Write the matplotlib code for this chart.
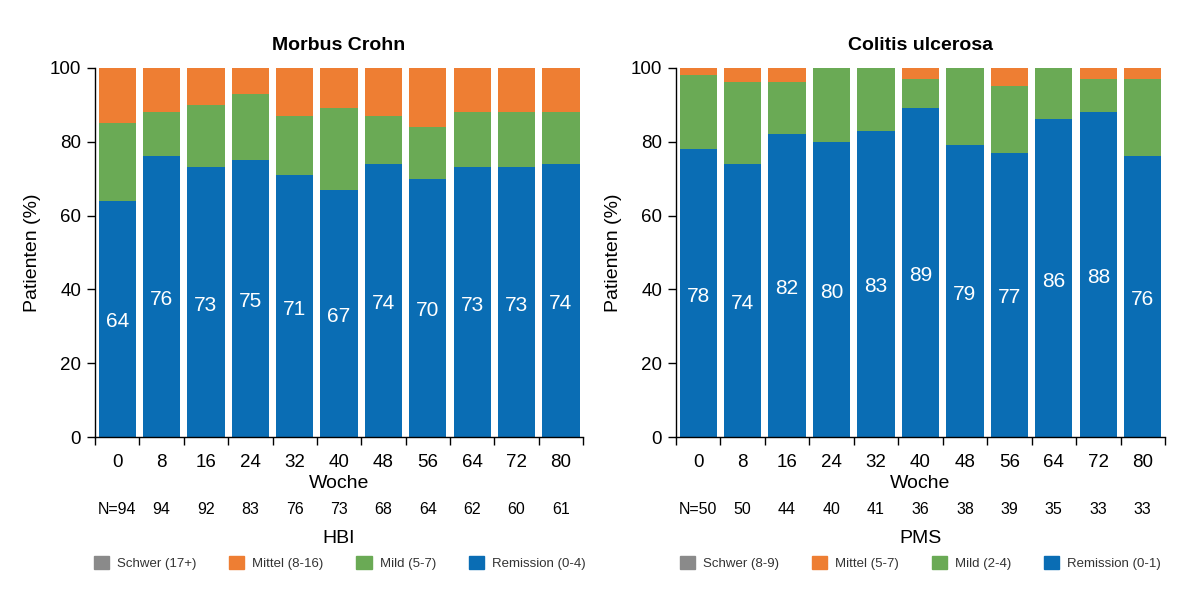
"""Stacked bars of disease activity over time: Morbus Crohn (HBI) and Colitis ulcerosa (PMS)."""

import numpy as np
import matplotlib.pyplot as plt
from matplotlib.patches import Patch
from matplotlib import transforms

plt.rcParams["font.family"] = ["Liberation Sans", "DejaVu Sans"]

WEEKS = ["0", "8", "16", "24", "32", "40", "48", "56", "64", "72", "80"]

# Morbus Crohn (HBI), percent of patients
cd_n = ["N=94", "94", "92", "83", "76", "73", "68", "64", "62", "60", "61"]
cd_remission = [64, 76, 73, 75, 71, 67, 74, 70, 73, 73, 74]
cd_mild = [21, 12, 17, 18, 16, 22, 13, 14, 15, 15, 14]
cd_mittel = [15, 12, 10, 7, 13, 11, 13, 16, 12, 12, 12]
cd_schwer = [0, 0, 0, 0, 0, 0, 0, 0, 0, 0, 0]
cd_legend = ["Schwer (17+)", "Mittel (8-16)", "Mild (5-7)", "Remission (0-4)"]

# Colitis ulcerosa (PMS), percent of patients
uc_n = ["N=50", "50", "44", "40", "41", "36", "38", "39", "35", "33", "33"]
uc_remission = [78, 74, 82, 80, 83, 89, 79, 77, 86, 88, 76]
uc_mild = [20, 22, 14, 20, 17, 8, 21, 18, 14, 9, 21]
uc_mittel = [2, 4, 4, 0, 0, 3, 0, 5, 0, 3, 3]
uc_schwer = [0, 0, 0, 0, 0, 0, 0, 0, 0, 0, 0]
uc_legend = ["Schwer (8-9)", "Mittel (5-7)", "Mild (2-4)", "Remission (0-1)"]

BLUE = "#0a6db4"
GREEN = "#6aaa55"
ORANGE = "#ee7e33"
GRAY = "#8a8a8a"


def draw_panel(fig, ax, title, remission, mild, mittel, schwer, n_row, score, legend_labels, cx):
    x = np.arange(len(WEEKS))
    rem = np.array(remission)
    mil = np.array(mild)
    mit = np.array(mittel)
    sch = np.array(schwer)
    w = 0.84
    ax.bar(x, rem, w, color=BLUE)
    ax.bar(x, mil, w, bottom=rem, color=GREEN)
    ax.bar(x, mit, w, bottom=rem + mil, color=ORANGE)
    ax.bar(x, sch, w, bottom=rem + mil + mit, color=GRAY)

    for xi, v in zip(x, rem):
        ax.text(xi, v / 2 - 0.8, str(v), ha="center", va="center", color="white", fontsize=15)

    ax.set_xlim(-0.5, len(WEEKS) - 0.5)
    ax.set_ylim(0, 100)
    ax.set_yticks([0, 20, 40, 60, 80, 100])
    ax.set_xticks(x)
    ax.set_xticklabels(WEEKS)
    ax.set_xticks(np.arange(-0.5, len(WEEKS)), minor=True)
    ax.tick_params(axis="x", which="major", length=0, labelsize=13.5, pad=12)
    ax.tick_params(axis="x", which="minor", length=6, width=1)
    ax.tick_params(axis="y", length=6, width=1, labelsize=13.5, pad=4)
    for side in ["top", "right"]:
        ax.spines[side].set_visible(False)
    ax.spines["left"].set_linewidth(1)
    ax.spines["bottom"].set_linewidth(1)
    ax.set_title(title, fontsize=14, fontweight="bold", pad=13)
    ax.set_ylabel("Patienten (%)", fontsize=14, labelpad=6)
    ax.set_xlabel("Woche", fontsize=14, labelpad=3)

    trans = transforms.blended_transform_factory(ax.transData, fig.transFigure)
    for xi, lab in zip(x, n_row):
        ax.text(xi, 0.15, lab, transform=trans, ha="center", va="center", fontsize=11.5)
    ax.text(5, 0.103, score, transform=trans, ha="center", va="center", fontsize=14)

    handles = [Patch(color=c) for c in [GRAY, ORANGE, GREEN, BLUE]]
    fig.legend(handles, legend_labels, loc="center", bbox_to_anchor=(cx, 0.062), ncol=4,
               frameon=False, fontsize=9.5, handlelength=1.15, handleheight=1.15,
               handletextpad=0.6, columnspacing=2.5, labelcolor="#333333")


def main() -> None:
    fig = plt.figure(figsize=(12, 6), dpi=100)
    ax1 = fig.add_axes([0.0792, 0.2712, 0.4067, 0.616])
    ax2 = fig.add_axes([0.5633, 0.2712, 0.4075, 0.616])
    draw_panel(fig, ax1, "Morbus Crohn", cd_remission, cd_mild, cd_mittel, cd_schwer,
               cd_n, "HBI", cd_legend, 0.283)
    draw_panel(fig, ax2, "Colitis ulcerosa", uc_remission, uc_mild, uc_mittel, uc_schwer,
               uc_n, "PMS", uc_legend, 0.767)
    fig.savefig("out.png", dpi=100)


if __name__ == "__main__":
    main()
